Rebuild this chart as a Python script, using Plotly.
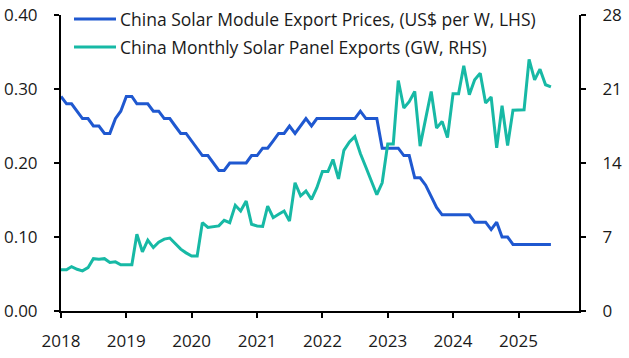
import plotly.graph_objects as go
import pandas as pd

dates = pd.date_range("2018-01-01", periods=91, freq="MS")

module_price = [
    0.29, 0.28, 0.28, 0.27, 0.26, 0.26, 0.25, 0.25, 0.24, 0.24, 0.26, 0.27,
    0.29, 0.29, 0.28, 0.28, 0.28, 0.27, 0.27, 0.26, 0.26, 0.25, 0.24, 0.24,
    0.23, 0.22, 0.21, 0.21, 0.20, 0.19, 0.19, 0.20, 0.20, 0.20, 0.20, 0.21,
    0.21, 0.22, 0.22, 0.23, 0.24, 0.24, 0.25, 0.24, 0.25, 0.26, 0.25, 0.26,
    0.26, 0.26, 0.26, 0.26, 0.26, 0.26, 0.26, 0.27, 0.26, 0.26, 0.26, 0.22,
    0.22, 0.22, 0.22, 0.21, 0.21, 0.18, 0.18, 0.17, 0.155, 0.14, 0.13, 0.13,
    0.13, 0.13, 0.13, 0.13, 0.12, 0.12, 0.12, 0.11, 0.12, 0.10, 0.10, 0.09,
    0.09, 0.09, 0.09, 0.09, 0.09, 0.09, 0.09,
]

panel_exports = [
    3.9, 3.9, 4.2, 3.95, 3.8, 4.1, 4.95, 4.9, 4.95, 4.6, 4.65, 4.37,
    4.37, 4.37, 7.26, 5.6, 6.7, 6.0, 6.5, 6.8, 6.9, 6.4, 5.85, 5.5,
    5.2, 5.2, 8.36, 7.9, 8.0, 8.05, 8.58, 8.36, 10.0, 9.46, 10.4, 8.2,
    8.05, 8.0, 9.93, 8.83, 9.15, 9.46, 8.5, 12.13, 10.9, 11.35, 10.56, 11.66,
    13.2, 13.2, 14.33, 12.5, 15.2, 16.0, 16.5, 14.9, 13.6, 12.3, 11.0, 12.13,
    15.8, 15.8, 21.8, 19.2, 19.8, 20.77, 15.6, 18.2, 20.77, 17.3, 17.94, 16.4,
    20.55, 20.55, 23.2, 20.46, 21.87, 22.5, 19.67, 20.24, 15.43, 19.42, 15.65, 19.0,
    19.04, 19.04, 23.8, 21.87, 22.88, 21.4, 21.2,
]

series_names = [
    "China Solar Module Export Prices, (US$ per W, LHS)",
    "China Monthly Solar Panel Exports (GW, RHS)",
]
year_ticks = [f"{y}-01-01" for y in range(2018, 2026)]
year_labels = [str(y) for y in range(2018, 2026)]
left_ticks = [0.0, 0.1, 0.2, 0.3, 0.4]
right_ticks = [0, 7, 14, 21, 28]

BLUE = "#1F58D0"
TEAL = "#17B9A5"
FONT = "Open Sans"
TXT = "#1a1a1a"

fig = go.Figure()
fig.add_trace(go.Scatter(x=dates, y=module_price, mode="lines", name=series_names[0],
                         line=dict(color=BLUE, width=3), yaxis="y"))
fig.add_trace(go.Scatter(x=dates, y=panel_exports, mode="lines", name=series_names[1],
                         line=dict(color=TEAL, width=3), yaxis="y2"))

L, R, T, B = 61, 50, 15, 47
W, H = 629, 358
pw, ph = W - L - R, H - T - B

def px_x(x):
    return (x - L) / pw

def px_y(y):
    return (H - B - y) / ph

shapes = []
annotations = []
for i, (name, col, ypix) in enumerate([(series_names[0], BLUE, 19), (series_names[1], TEAL, 47)]):
    shapes.append(dict(type="line", xref="paper", yref="paper", x0=px_x(74), x1=px_x(116),
                       y0=px_y(ypix), y1=px_y(ypix), line=dict(color=col, width=3)))
    annotations.append(dict(text=name, xref="paper", yref="paper", x=px_x(118), y=px_y(ypix),
                            xanchor="left", yanchor="middle", showarrow=False,
                            font=dict(family=FONT, size=17.5, color=TXT)))

axis_common = dict(showline=True, linecolor="black", linewidth=2, ticks="outside",
                   ticklen=5, tickwidth=2, tickcolor="black", showgrid=False, zeroline=False,
                   automargin=False,
                   tickfont=dict(family=FONT, size=17, color=TXT))

fig.update_layout(
    width=W, height=H, autosize=False,
    margin=dict(l=L, r=R, t=T, b=B, pad=0, autoexpand=False),
    paper_bgcolor="white", plot_bgcolor="white",
    showlegend=False,
    xaxis=dict(range=["2018-01-01", "2025-12-05"], tickvals=year_ticks, ticktext=year_labels,
               ticklabelstandoff=9, **axis_common),
    yaxis=dict(range=[0, 0.4], tickvals=left_ticks, tickformat=".2f", ticklabelstandoff=13,
               **axis_common),
    yaxis2=dict(range=[0, 28], tickvals=right_ticks, overlaying="y", side="right",
                ticklabelstandoff=13, **axis_common),
    shapes=shapes, annotations=annotations,
)

fig.write_html(
    "out.html",
    config={"responsive": False, "displayModeBar": False},
    post_script="document.body.style.margin='0px';document.body.style.overflow='hidden';",
)
